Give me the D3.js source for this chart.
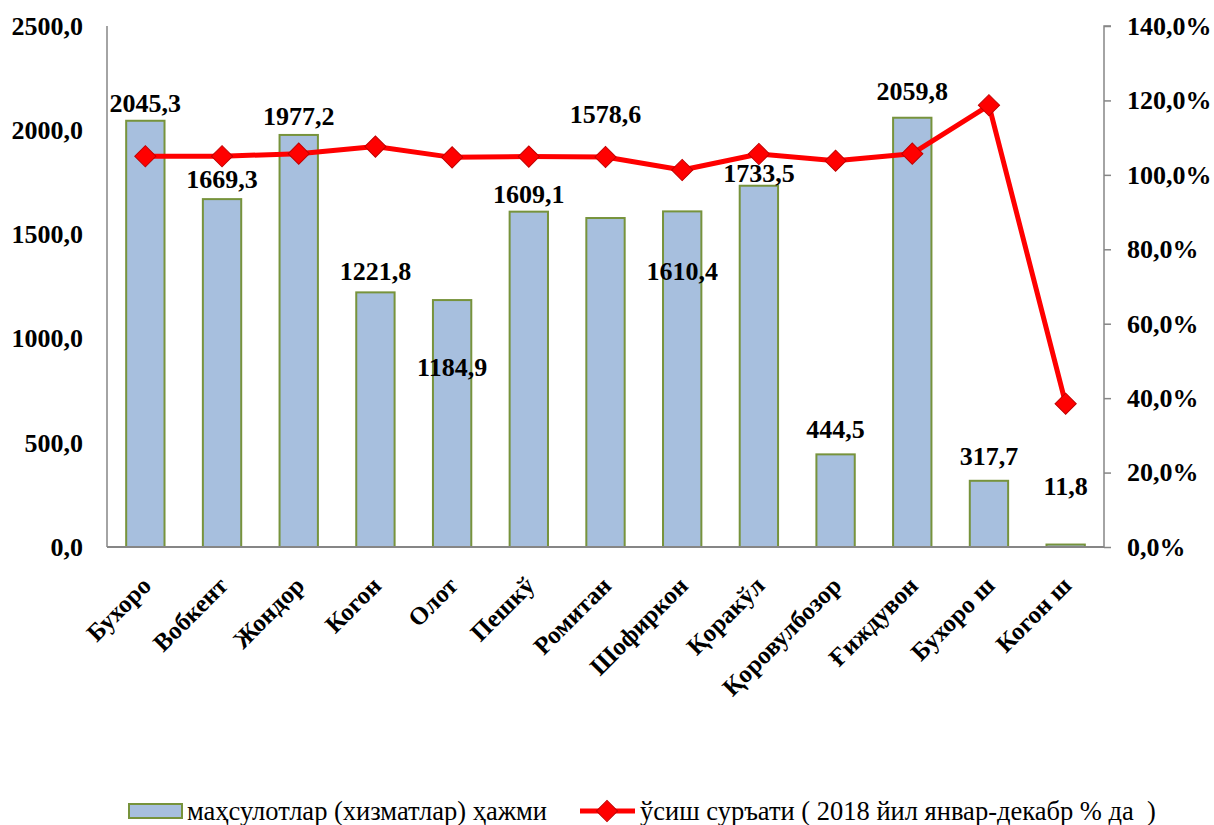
<!DOCTYPE html>
<html>
<head>
<meta charset="utf-8">
<script src="https://cdn.jsdelivr.net/npm/d3@7"></script>
<style>
  body { margin: 0; background: #fff; }
  text { font-family: "Liberation Serif", "Times New Roman", serif; white-space: pre; }
</style>
</head>
<body>
<script>
// data
const districts = ["Бухоро", "Вобкент", "Жондор", "Когон", "Олот", "Пешкў", "Ромитан",
  "Шофиркон", "Қоракўл", "Қоровулбозор", "Ғиждувон", "Бухоро ш", "Когон ш"];
const volume = [2045.3, 1669.3, 1977.2, 1221.8, 1184.9, 1609.1, 1578.6,
  1610.4, 1733.5, 444.5, 2059.8, 317.7, 11.8];
const growth = [105.0, 105.0, 105.7, 107.6, 104.7, 104.9, 104.8,
  101.3, 105.6, 103.8, 105.7, 118.7, 38.5];
const leftTicks = [0, 500, 1000, 1500, 2000, 2500];
const rightTicks = [0, 20, 40, 60, 80, 100, 120, 140];
const barName = "маҳсулотлар (хизматлар) ҳажми";
const lineName = "ўсиш суръати ( 2018 йил январ-декабр % да  )";

// where each value label sits, relative to the bar top (px)
const labelDy = [-9, -11, -10, -12, 76, -9, -95, 69, -4, -16, -18, -16, -50];

const width = 1214, height = 825;
const svg = d3.select("body").append("svg")
  .attr("width", width)
  .attr("height", height);

const plotL = 107, plotR = 1104, plotT = 26, plotB = 547;

const x = d3.scaleBand().domain(districts).range([plotL, plotR]);
const yL = d3.scaleLinear().domain([0, 2500]).range([plotB, plotT]);
const yR = d3.scaleLinear().domain([0, 140]).range([plotB, plotT]);

const fmt = d => d.toFixed(1).replace(".", ",");

// bars
svg.selectAll("rect.bar")
  .data(volume)
  .enter().append("rect")
  .attr("class", "bar")
  .attr("x", (d, i) => x(districts[i]) + x.bandwidth() * 0.25)
  .attr("width", x.bandwidth() * 0.5)
  .attr("y", d => yL(d))
  .attr("height", d => yL(0) - yL(d))
  .attr("fill", "#a7bfde")
  .attr("stroke", "#77933c")
  .attr("stroke-width", 2);

// axes
const axisL = svg.append("g")
  .attr("transform", `translate(${plotL},0)`)
  .call(d3.axisLeft(yL).tickValues(leftTicks).tickSize(0).tickPadding(24).tickFormat(fmt));

const axisR = svg.append("g")
  .attr("transform", `translate(${plotR},0)`)
  .call(d3.axisRight(yR).tickValues(rightTicks).tickSize(7).tickPadding(16)
    .tickFormat(d => fmt(d) + "%"));

[axisL, axisR].forEach(g => {
  g.select(".domain").attr("stroke", "#868686").attr("stroke-width", 1.5);
  g.selectAll(".tick line").attr("stroke", "#868686").attr("stroke-width", 1.5);
  g.selectAll(".tick text")
    .attr("font-size", 26)
    .attr("font-weight", "bold")
    .attr("fill", "#000");
});
axisR.selectAll(".tick text").attr("text-anchor", "start");
axisL.select(".domain").attr("d", `M0,${plotT}V${plotB}`);
axisR.select(".domain").attr("d", `M7,${plotT}H0V${plotB}`);

svg.append("line")
  .attr("x1", plotL).attr("x2", plotR)
  .attr("y1", plotB).attr("y2", plotB)
  .attr("stroke", "#868686")
  .attr("stroke-width", 2);

// category labels
svg.selectAll("text.cat")
  .data(districts)
  .enter().append("text")
  .attr("class", "cat")
  .attr("transform", d => `translate(${x(d) + x.bandwidth() / 2 + 1},581) rotate(-45)`)
  .attr("text-anchor", "end")
  .attr("dy", "0.35em")
  .attr("font-size", 25)
  .attr("font-weight", "bold")
  .text(d => d);

// growth line
const line = d3.line()
  .x((d, i) => x(districts[i]) + x.bandwidth() / 2)
  .y(d => yR(d));

svg.append("path")
  .datum(growth)
  .attr("d", line)
  .attr("fill", "none")
  .attr("stroke", "#ff0000")
  .attr("stroke-width", 5)
  .attr("stroke-linejoin", "round");

const diamond = d3.symbol(d3.symbolSquare, 15 * 15);
svg.selectAll("path.mark")
  .data(growth)
  .enter().append("path")
  .attr("class", "mark")
  .attr("d", diamond)
  .attr("transform", (d, i) => `translate(${x(districts[i]) + x.bandwidth() / 2},${yR(d)}) rotate(45)`)
  .attr("fill", "#ff0000")
  .attr("stroke", "#c00000")
  .attr("stroke-width", 1);

// value labels
svg.selectAll("text.val")
  .data(volume)
  .enter().append("text")
  .attr("class", "val")
  .attr("x", (d, i) => x(districts[i]) + x.bandwidth() / 2)
  .attr("y", (d, i) => yL(d) + labelDy[i])
  .attr("text-anchor", "middle")
  .attr("font-size", 26)
  .attr("font-weight", "bold")
  .text(fmt);

// legend
const legend = svg.append("g");
legend.append("rect")
  .attr("x", 129).attr("y", 804)
  .attr("width", 53).attr("height", 14)
  .attr("fill", "#a7bfde")
  .attr("stroke", "#77933c")
  .attr("stroke-width", 2);
legend.append("text")
  .attr("x", 187).attr("y", 820)
  .attr("font-size", 26.5)
  .text(barName);

legend.append("line")
  .attr("x1", 580).attr("x2", 635)
  .attr("y1", 811).attr("y2", 811)
  .attr("stroke", "#ff0000")
  .attr("stroke-width", 5);
legend.append("path")
  .attr("d", diamond)
  .attr("transform", "translate(607,811) rotate(45)")
  .attr("fill", "#ff0000")
  .attr("stroke", "#c00000");
legend.append("text")
  .attr("x", 640).attr("y", 820)
  .attr("font-size", 26.5)
  .text(lineName);
</script>
</body>
</html>
